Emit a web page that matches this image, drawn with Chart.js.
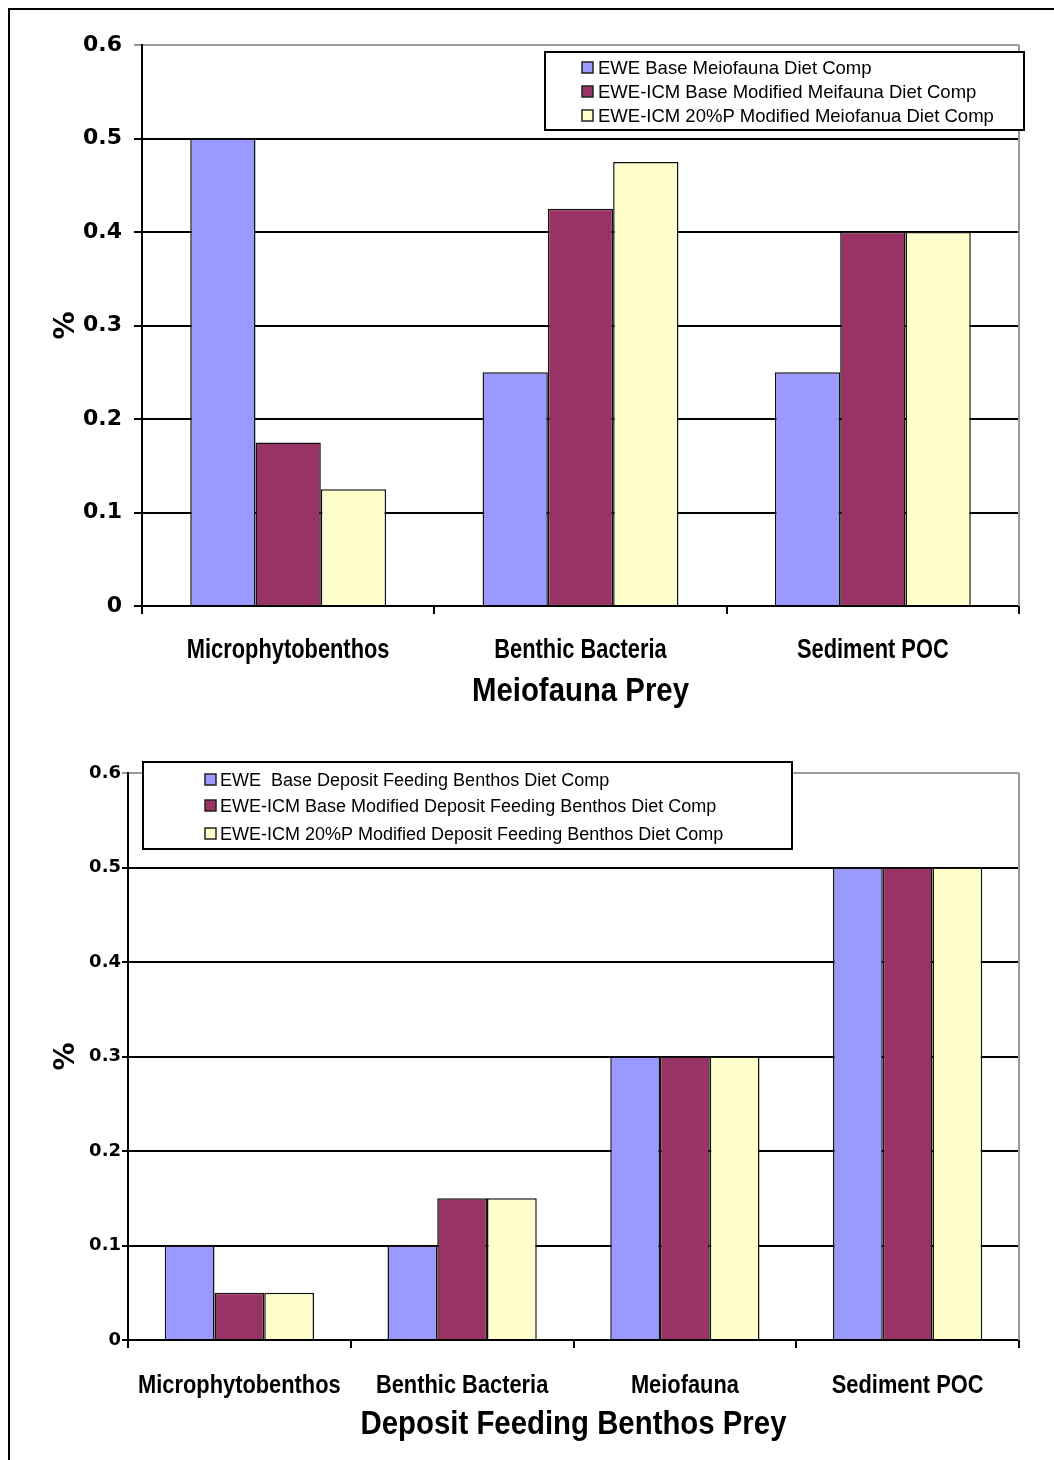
<!DOCTYPE html>
<html>
<head>
<meta charset="utf-8">
<title>Diet composition</title>
<script src="https://cdn.jsdelivr.net/npm/chart.js@4.4.1/dist/chart.umd.min.js"></script>
<style>
    body { margin: 0; background: #fff; }
    #page { position: relative; width: 1054px; height: 1460px; overflow: hidden; background: #fff; }
    #frame { position: absolute; left: 8px; top: 8px; width: 1100px; height: 1500px; border-left: 2px solid #000; border-top: 2px solid #000; }
    .box { position: absolute; left: 0; width: 1054px; }
    #meioBox { top: 0; height: 720px; }
    #dfbBox { top: 730px; height: 730px; }
</style>
</head>
<body>
<div id="page">
    <div id="frame"></div>
    <div class="box" id="meioBox"><canvas id="meioChart"></canvas></div>
    <div class="box" id="dfbBox"><canvas id="dfbChart"></canvas></div>
</div>
<script>
// Meiofauna prey
const meioPrey = ['Microphytobenthos', 'Benthic Bacteria', 'Sediment POC'];
const meioEweBase = [0.5, 0.25, 0.25];
const meioIcmBase = [0.175, 0.425, 0.4];
const meioIcm20P = [0.125, 0.475, 0.4];
const meioLabels = [
    'EWE Base Meiofauna Diet Comp',
    'EWE-ICM Base Modified Meifauna Diet Comp',
    'EWE-ICM 20%P Modified Meiofanua Diet Comp'
];

// Deposit feeding benthos prey
const dfbPrey = ['Microphytobenthos', 'Benthic Bacteria', 'Meiofauna', 'Sediment POC'];
const dfbEweBase = [0.1, 0.1, 0.3, 0.5];
const dfbIcmBase = [0.05, 0.15, 0.3, 0.5];
const dfbIcm20P = [0.05, 0.15, 0.3, 0.5];
const dfbLabels = [
    'EWE  Base Deposit Feeding Benthos Diet Comp',
    'EWE-ICM Base Modified Deposit Feeding Benthos Diet Comp',
    'EWE-ICM 20%P Modified Deposit Feeding Benthos Diet Comp'
];

const yMax = 0.6;
const yStep = 0.1;

const seriesColors = ['#9999ff', '#993366', '#ffffcc'];
const PLAIN = "'Liberation Sans', Arial, sans-serif";
const WIDE = "'DejaVu Sans', 'Liberation Sans', sans-serif";

Chart.defaults.font.family = PLAIN;
Chart.defaults.color = '#000';

// legend drawn as a framed box at a fixed spot over the plot
const boxLegend = {
    id: 'boxLegend',
    afterDraw(chart, args, opts) {
        const ctx = chart.ctx;
        ctx.save();
        ctx.fillStyle = '#fff';
        ctx.fillRect(opts.x, opts.y, opts.w, opts.h);
        ctx.strokeStyle = '#000';
        ctx.lineWidth = 2;
        ctx.strokeRect(opts.x, opts.y, opts.w, opts.h);
        ctx.font = opts.font;
        ctx.textBaseline = 'middle';
        chart.data.datasets.forEach((ds, i) => {
            const cy = opts.rows[i];
            ctx.fillStyle = ds.backgroundColor;
            ctx.fillRect(opts.swatchX, cy - 6, 11, 11);
            ctx.strokeStyle = '#222';
            ctx.lineWidth = 1.5;
            ctx.strokeRect(opts.swatchX, cy - 6, 11, 11);
            ctx.fillStyle = '#000';
            ctx.fillText(ds.label, opts.textX, cy + 1);
        });
        ctx.restore();
    }
};

// category names and axis title in a squeezed bold face
function squeezedText(ctx, text, x, y, font, sx) {
    ctx.save();
    ctx.translate(x, y);
    ctx.scale(sx, 1);
    ctx.font = font;
    ctx.textAlign = 'center';
    ctx.textBaseline = 'alphabetic';
    ctx.fillStyle = '#000';
    ctx.fillText(text, 0, 0);
    ctx.restore();
}

const narrowAxis = {
    id: 'narrowAxis',
    afterDraw(chart, args, opts) {
        const xs = chart.scales.x;
        const ctx = chart.ctx;
        chart.data.labels.forEach((lab, i) => {
            squeezedText(ctx, lab, xs.getPixelForValue(i), opts.catBase, opts.catFont, opts.catScale);
        });
        const area = chart.chartArea;
        squeezedText(ctx, opts.title, (area.left + area.right) / 2, opts.titleBase, opts.titleFont, opts.titleScale);
    }
};

// grey plot border on the right
const plotEdge = {
    id: 'plotEdge',
    beforeDatasetsDraw(chart) {
        const { ctx, chartArea } = chart;
        ctx.save();
        ctx.strokeStyle = '#999';
        ctx.lineWidth = 2;
        ctx.beginPath();
        ctx.moveTo(chartArea.right, chartArea.top);
        ctx.lineTo(chartArea.right, chartArea.bottom);
        ctx.stroke();
        ctx.restore();
    }
};

function buildDatasets(labels, seriesList) {
    return seriesList.map((values, i) => ({
        label: labels[i],
        data: values,
        backgroundColor: seriesColors[i],
        borderColor: '#111',
        borderWidth: 1.5,
        categoryPercentage: 0.67,
        barPercentage: 1.0
    }));
}

function makeChart(canvasId, cats, datasets, cfg) {
    return new Chart(document.getElementById(canvasId), {
        type: 'bar',
        data: { labels: cats, datasets: datasets },
        plugins: [plotEdge, narrowAxis, boxLegend],
        options: {
            responsive: true,
            maintainAspectRatio: false,
            animation: false,
            layout: { padding: { top: cfg.padTop, right: cfg.padRight, left: 0, bottom: 0 } },
            plugins: {
                legend: { display: false },
                tooltip: { enabled: false },
                boxLegend: cfg.legend,
                narrowAxis: cfg.axis
            },
            scales: {
                x: {
                    grid: { drawOnChartArea: false, drawTicks: true, tickLength: 8, color: '#000', lineWidth: 2 },
                    border: { color: '#000', width: 2 },
                    ticks: { display: false },
                    afterFit: (scale) => { scale.height = cfg.xHeight; }
                },
                y: {
                    min: 0,
                    max: yMax,
                    grid: {
                        tickLength: cfg.yTick,
                        lineWidth: 2,
                        color: (c) => (c.tick && c.tick.value >= yMax - 1e-9 ? '#999' : '#000')
                    },
                    border: { color: '#000', width: 2 },
                    ticks: {
                        stepSize: yStep,
                        padding: cfg.yTickPad,
                        font: { family: WIDE, size: cfg.ySize, weight: 'bold' },
                        callback: (v) => (v === 0 ? '0' : Number(v).toFixed(1))
                    },
                    title: {
                        display: true,
                        text: '%',
                        font: { family: WIDE, size: 28, weight: 'bold' },
                        padding: { top: cfg.yTitlePad, bottom: 0 }
                    },
                    afterFit: (scale) => { scale.width = cfg.yWidth; }
                }
            }
        }
    });
}

makeChart('meioChart', meioPrey,
    buildDatasets(meioLabels, [meioEweBase, meioIcmBase, meioIcm20P]), {
        padTop: 45, padRight: 35, xHeight: 114, yWidth: 142,
        yTick: 8, yTickPad: 12, ySize: 22, yTitlePad: 50,
        axis: {
            catFont: 'bold 28px ' + PLAIN, catScale: 0.78, catBase: 658,
            title: 'Meiofauna Prey', titleFont: 'bold 33px ' + PLAIN, titleScale: 0.89, titleBase: 701
        },
        legend: { x: 545, y: 52, w: 479, h: 78, rows: [68, 92, 116], swatchX: 582, textX: 598, font: '18.5px ' + PLAIN }
    });

makeChart('dfbChart', dfbPrey,
    buildDatasets(dfbLabels, [dfbEweBase, dfbIcmBase, dfbIcm20P]), {
        padTop: 43, padRight: 35, xHeight: 120, yWidth: 128,
        yTick: 6, yTickPad: 1, ySize: 18, yTitlePad: 50,
        axis: {
            catFont: 'bold 26px ' + PLAIN, catScale: 0.84, catBase: 663,
            title: 'Deposit Feeding Benthos Prey', titleFont: 'bold 33px ' + PLAIN, titleScale: 0.89, titleBase: 704
        },
        legend: { x: 143, y: 32, w: 649, h: 87, rows: [50, 76, 104], swatchX: 205, textX: 220, font: '18px ' + PLAIN }
    });
</script>
</body>
</html>
